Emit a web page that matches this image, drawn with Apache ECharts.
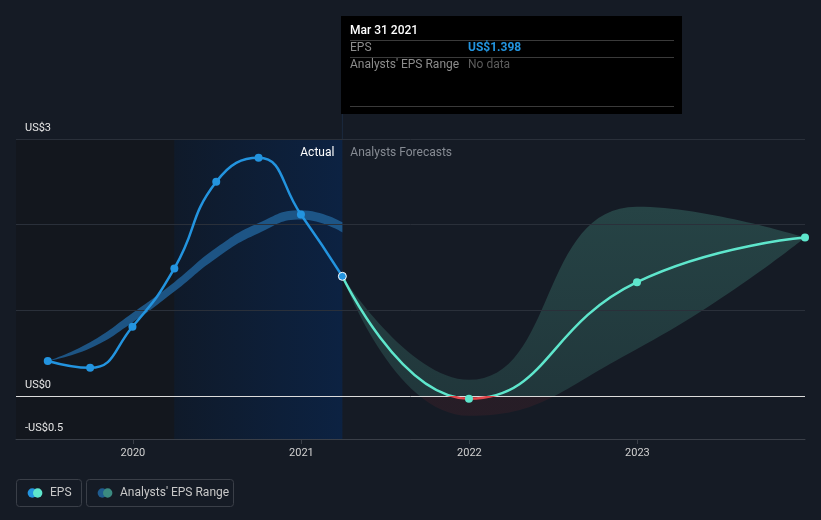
<!DOCTYPE html>
<html>
<head>
<meta charset="utf-8">
<script src="https://cdn.jsdelivr.net/npm/echarts@6/dist/echarts.min.js"></script>
<style>
html,body{margin:0;padding:0;background:#151b25;}
#main{width:821px;height:520px;}
</style>
</head>
<body>
<div id="main"></div>
<script>
// ---- data ----
const actualDates = ['2019-06-30','2019-09-30','2019-12-31','2020-03-31','2020-06-30','2020-09-30','2020-12-31','2021-03-31'];
const actualEps   = [0.41, 0.33, 0.81, 1.49, 2.50, 2.78, 2.12, 1.398];
const pastRangeLow  = [0.41, 0.56, 0.86, 1.22, 1.61, 1.90, 2.06, 1.91];
const pastRangeHigh = [0.41, 0.63, 0.97, 1.33, 1.73, 2.02, 2.17, 2.03];
const forecastDates = ['2021-03-31','2021-12-31','2022-12-31','2023-12-31'];
const forecastEps   = [1.398, -0.03, 1.33, 1.85];
const forecastLow   = [1.398, -0.23, 0.55, 1.85];
const forecastHigh  = [1.398, 0.19, 2.21, 1.85];
const gridValues  = [-0.5, 0, 1, 2, 3];
const yTickLabels = {'3':'US$3','0':'US$0','-0.5':'-US$0.5'};
const xMin = '2019-04-22', xMax = '2023-12-31';
const pastStart = '2020-03-31', lastActual = '2021-03-31';

const TEAL = '#5ee6cc', BLUE = '#2394df', RED = '#e0474c';
const pair = (ds, vs) => ds.map((d, i) => [d, vs[i]]);

const chart = echarts.init(document.getElementById('main'), null, {renderer:'canvas'});

const gridLines = gridValues.map(v => ({
  yAxis: v,
  lineStyle: {color: v === 0 ? '#dcdcdc' : (v === -0.5 ? '#3a3f48' : '#2a303a'), width: 1, type: 'solid'},
  label: {show: !!yTickLabels[String(v)], formatter: yTickLabels[String(v)] || '',
          position: 'insideStartTop', distance: 5, padding: [0,0,0,4], color: '#e6e6e6', fontSize: 11}
}));

const option = {
  backgroundColor: '#151b25',
  animation: false,
  textStyle: {fontFamily: 'Roboto, "Open Sans", sans-serif'},
  grid: {left: 16, right: 16, top: 139, bottom: 81},
  xAxis: {
    type: 'time', min: xMin, max: xMax,
    minInterval: 365*24*3600*1000, maxInterval: 366*24*3600*1000,
    axisLine: {onZero: false, lineStyle: {color: '#3a3f48'}},
    axisTick: {show: true, length: 5, lineStyle: {color: '#3a3f48'}},
    splitLine: {show: false},
    axisLabel: {color: '#d0d0d0', fontSize: 11, margin: 9, showMinLabel: false, showMaxLabel: false,
      formatter: v => String(new Date(v).getFullYear())}
  },
  yAxis: {
    type: 'value', min: -0.5, max: 3, interval: 0.5,
    axisLine: {show: false}, axisTick: {show: false},
    splitLine: {show: false},
    axisLabel: {show: false}
  },
  series: [
    { // past analyst range - base
      type: 'line', name: 'pastLow', stack: 'past', stackStrategy: 'all', smooth: true,
      symbol: 'none', lineStyle: {width: 0, opacity: 0},
      data: pair(actualDates, pastRangeLow), z: 2,
      markArea: {
        silent: true,
        data: [
          [{xAxis: xMin, itemStyle: {color: '#13171e'}}, {xAxis: pastStart}],
          [{xAxis: pastStart,
            itemStyle: {color: new echarts.graphic.LinearGradient(0,0,1,0,[{offset:0,color:'#0f1a2a'},{offset:1,color:'#0c2242'}])},
            label: {show: true, position: 'insideTopRight', distance: 8, formatter: 'Actual', color: '#ffffff', fontSize: 12}},
           {xAxis: lastActual}],
          [{xAxis: lastActual, itemStyle: {color: 'rgba(0,0,0,0)'},
            label: {show: true, position: 'insideTopLeft', distance: 8, formatter: 'Analysts Forecasts', color: '#868b93', fontSize: 12}},
           {xAxis: xMax}]
        ]
      }
    },
    { // past analyst range - width
      type: 'line', name: 'pastRange', stack: 'past', stackStrategy: 'all', smooth: true,
      symbol: 'none', lineStyle: {width: 0, opacity: 0},
      areaStyle: {color: '#1f5b8e', opacity: 0.9},
      data: pair(actualDates, pastRangeHigh.map((h, i) => h - pastRangeLow[i])), z: 2
    },
    { // forecast range - base
      type: 'line', name: 'fLow', stack: 'fc', stackStrategy: 'all', smooth: true,
      symbol: 'none', lineStyle: {width: 0, opacity: 0},
      data: pair(forecastDates, forecastLow), z: 2
    },
    { // forecast range - width
      type: 'line', name: 'fRange', stack: 'fc', stackStrategy: 'all', smooth: true,
      symbol: 'none', lineStyle: {width: 0, opacity: 0},
      areaStyle: {color: 'rgba(91,194,170,0.3)'},
      data: pair(forecastDates, forecastHigh.map((h, i) => h - forecastLow[i])), z: 2,
      markLine: {silent: true, symbol: ['none','none'], data: gridLines, z: 3}
    },
    { // forecast EPS
      type: 'line', name: 'EPS forecast', smooth: true,
      symbol: 'circle', symbolSize: 8, showSymbol: true,
      lineStyle: {width: 2.5, color: TEAL},
      itemStyle: {color: TEAL},
      data: forecastDates.map((d, i) => i === 0 ? {value: [d, forecastEps[i]], symbol: 'none'} : [d, forecastEps[i]]),
      z: 4
    },
    { // actual EPS
      type: 'line', name: 'EPS', smooth: true,
      symbol: 'circle', symbolSize: 8, showSymbol: true,
      lineStyle: {width: 2.5, color: BLUE},
      itemStyle: {color: BLUE},
      data: actualDates.map((d, i) => i === actualDates.length - 1
        ? {value: [d, actualEps[i]], itemStyle: {color: BLUE, borderColor: '#ffffff', borderWidth: 1}}
        : [d, actualEps[i]]),
      z: 5
    }
  ]
};
chart.setOption(option);

// gradients split at zero, computed via the chart's own scale
const yTop = chart.convertToPixel({yAxisIndex: 0}, 3);
const yBot = chart.convertToPixel({yAxisIndex: 0}, -0.5);
const y0 = chart.convertToPixel({yAxisIndex: 0}, 0);
const f = (y0 - yTop) / (yBot - yTop);
const lineGrad = new echarts.graphic.LinearGradient(0, yTop, 0, yBot, [
  {offset: 0, color: TEAL}, {offset: f, color: TEAL}, {offset: f, color: RED}, {offset: 1, color: RED}], true);
const areaGrad = new echarts.graphic.LinearGradient(0, yTop, 0, yBot, [
  {offset: 0, color: 'rgba(91,194,170,0.38)'}, {offset: f, color: 'rgba(91,194,170,0.24)'},
  {offset: f, color: 'rgba(170,45,50,0.17)'}, {offset: 1, color: 'rgba(170,45,50,0.17)'}], true);

const xPtr = chart.convertToPixel({xAxisIndex: 0}, lastActual);
const gx = Math.round(xPtr) - 1;
const tx = gx + 9, tv = gx + 127;
const lineShape = y => ({type: 'line', shape: {x1: tx, y1: y, x2: gx + 333, y2: y}, style: {stroke: '#3a3a3a', lineWidth: 1}, z: 11});

chart.setOption({
  series: [{}, {}, {}, {areaStyle: {color: areaGrad}}, {lineStyle: {color: lineGrad}}, {}],
  graphic: [
    {type: 'line', shape: {x1: xPtr, y1: 114, x2: xPtr, y2: yTop}, style: {stroke: '#1b2a3f', lineWidth: 1}, z: 1},
    {type: 'rect', shape: {x: gx, y: 16, width: 341, height: 98}, style: {fill: '#000000'}, z: 10},
    {type: 'text', x: tx, y: 31, style: {text: 'Mar 31 2021', fill: '#ffffff', font: '500 12px Roboto', verticalAlign: 'middle'}, z: 11},
    lineShape(40.5),
    {type: 'text', x: tx, y: 48, style: {text: 'EPS', fill: '#8c8c8c', font: '12px Roboto', verticalAlign: 'middle'}, z: 11},
    {type: 'text', x: tv, y: 48, style: {text: 'US$1.398', fill: BLUE, font: 'bold 12px Roboto', verticalAlign: 'middle'}, z: 11},
    lineShape(57.5),
    {type: 'text', x: tx, y: 65, style: {text: "Analysts' EPS Range", fill: '#8c8c8c', font: '12px Roboto', verticalAlign: 'middle'}, z: 11},
    {type: 'text', x: tv, y: 65, style: {text: 'No data', fill: '#5c5c5c', font: '12px Roboto', verticalAlign: 'middle'}, z: 11},
    lineShape(106.5),
    // legend
    {type: 'rect', shape: {x: 16.5, y: 479.5, width: 65, height: 27, r: 3}, style: {fill: 'none', stroke: '#3a3f48', lineWidth: 1}},
    {type: 'circle', shape: {cx: 32.3, cy: 493, r: 4.7}, style: {fill: BLUE}},
    {type: 'circle', shape: {cx: 37.7, cy: 493, r: 4.7}, style: {fill: TEAL}},
    {type: 'text', x: 50, y: 493, style: {text: 'EPS', fill: '#c8c8c8', font: '12px Roboto', verticalAlign: 'middle'}},
    {type: 'rect', shape: {x: 86.5, y: 479.5, width: 147, height: 27, r: 3}, style: {fill: 'none', stroke: '#3a3f48', lineWidth: 1}},
    {type: 'circle', shape: {cx: 102.3, cy: 493, r: 4.7}, style: {fill: '#1f5b8e'}},
    {type: 'circle', shape: {cx: 107.7, cy: 493, r: 4.7}, style: {fill: '#3b8a80'}},
    {type: 'text', x: 120, y: 493, style: {text: "Analysts' EPS Range", fill: '#c8c8c8', font: '12px Roboto', verticalAlign: 'middle'}}
  ]
});
</script>
</body>
</html>
